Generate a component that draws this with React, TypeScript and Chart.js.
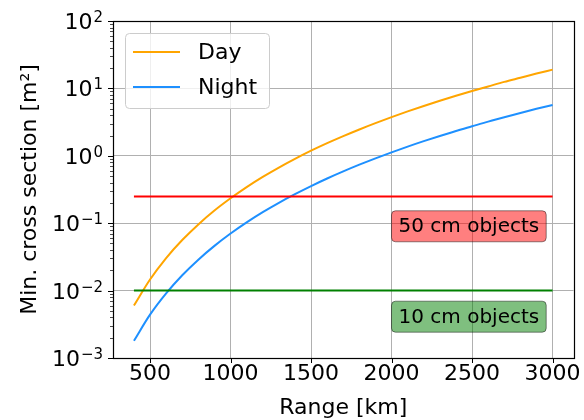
import React, { useEffect, useRef } from 'react';
import { Chart, registerables } from 'chart.js';

Chart.register(...registerables);

// ---- data ----
const rangeKm = [400, 500, 600, 700, 800, 900, 1000, 1100, 1200, 1300, 1400, 1500, 1600, 1700, 1800, 1900, 2000, 2100, 2200, 2300, 2400, 2500, 2600, 2700, 2800, 2900, 3000];
const dayValues = [0.006, 0.0146, 0.0304, 0.0563, 0.096, 0.154, 0.234, 0.343, 0.486, 0.669, 0.9, 1.19, 1.54, 1.96, 2.46, 3.05, 3.75, 4.56, 5.49, 6.56, 7.78, 9.16, 10.7, 12.5, 14.4, 16.6, 19.0];
const nightValues = [0.0018, 0.0044, 0.0091, 0.0169, 0.0288, 0.0461, 0.0703, 0.103, 0.146, 0.201, 0.27, 0.356, 0.461, 0.587, 0.738, 0.916, 1.125, 1.37, 1.65, 1.97, 2.33, 2.75, 3.21, 3.74, 4.32, 4.98, 5.69];
const lineStartKm = 400;
const lineEndKm = 3000;
const threshold50cm = 0.25;
const threshold10cm = 0.01;
const seriesLabels = ['Day', 'Night'];
const xTickValues = [500, 1000, 1500, 2000, 2500, 3000];
const yDecadeExponents = [-3, -2, -1, 0, 1, 2];
const annotationTexts = ['50 cm objects', '10 cm objects'];
const annotationX = [2480, 2480];
const annotationY = [0.09, 0.0041];

const FONT = "'DejaVu Sans', sans-serif";
const DAY_COLOR = '#ffa500';
const NIGHT_COLOR = '#1e90ff';

const expText = (e: number) => (e < 0 ? '\u2212' + String(-e) : String(e));
const isPow10 = (v: number) => Math.abs(Math.log10(v) - Math.round(Math.log10(v))) < 1e-9;

function roundRect(ctx: CanvasRenderingContext2D, x: number, y: number, w: number, h: number, r: number) {
  ctx.beginPath();
  ctx.moveTo(x + r, y);
  ctx.lineTo(x + w - r, y);
  ctx.arcTo(x + w, y, x + w, y + r, r);
  ctx.lineTo(x + w, y + h - r);
  ctx.arcTo(x + w, y + h, x + w - r, y + h, r);
  ctx.lineTo(x + r, y + h);
  ctx.arcTo(x, y + h, x, y + h - r, r);
  ctx.lineTo(x, y + r);
  ctx.arcTo(x, y, x + r, y, r);
  ctx.closePath();
}

const decorPlugin = {
  id: 'decor',
  afterDatasetsDraw(chart: any) {
    const ctx: CanvasRenderingContext2D = chart.ctx;
    const { left, right, top, bottom } = chart.chartArea;
    const xs = chart.scales.x;
    const ys = chart.scales.y;
    ctx.save();
    // ticks
    ctx.strokeStyle = '#000';
    ctx.lineWidth = 1;
    ctx.beginPath();
    xTickValues.forEach((v) => {
      const px = Math.round(xs.getPixelForValue(v)) + 0.5;
      ctx.moveTo(px, bottom);
      ctx.lineTo(px, bottom + 5);
    });
    yDecadeExponents.forEach((e) => {
      const py = Math.round(ys.getPixelForValue(Math.pow(10, e))) + 0.5;
      ctx.moveTo(left - 5, py);
      ctx.lineTo(left, py);
    });
    ctx.stroke();
    ctx.lineWidth = 0.7;
    ctx.beginPath();
    yDecadeExponents.slice(0, -1).forEach((e) => {
      for (let k = 2; k <= 9; k++) {
        const py = Math.round(ys.getPixelForValue(k * Math.pow(10, e))) + 0.5;
        ctx.moveTo(left - 3, py);
        ctx.lineTo(left, py);
      }
    });
    ctx.stroke();
    // frame
    ctx.lineWidth = 1.2;
    ctx.strokeRect(Math.round(left) + 0.5, Math.round(top) + 0.5, Math.round(right - left), Math.round(bottom - top));

    // y tick labels as 10^e with raised exponent
    ctx.fillStyle = '#000';
    ctx.textBaseline = 'alphabetic';
    ctx.textAlign = 'left';
    yDecadeExponents.forEach((e) => {
      const py = ys.getPixelForValue(Math.pow(10, e));
      const sup = expText(e);
      ctx.font = `15px ${FONT}`;
      const ws = ctx.measureText(sup).width;
      ctx.font = `22px ${FONT}`;
      const wm = ctx.measureText('10').width;
      const rightEdge = left - 10;
      const base = py + 8;
      ctx.fillText('10', rightEdge - ws - wm - 1, base);
      ctx.font = `15px ${FONT}`;
      ctx.fillText(sup, rightEdge - ws, base - 7);
    });

    // annotation boxes
    const fills = ['rgba(255,0,0,0.5)', 'rgba(0,128,0,0.5)'];
    ctx.font = `20px ${FONT}`;
    ctx.textAlign = 'center';
    ctx.textBaseline = 'middle';
    annotationTexts.forEach((t, i) => {
      const cx = xs.getPixelForValue(annotationX[i]);
      const cy = ys.getPixelForValue(annotationY[i]);
      const w = ctx.measureText(t).width + 14;
      const h = 31;
      roundRect(ctx, cx - w / 2, cy - h / 2, w, h, 4);
      ctx.fillStyle = fills[i];
      ctx.fill();
      ctx.strokeStyle = 'rgba(0,0,0,0.45)';
      ctx.lineWidth = 1;
      ctx.stroke();
      ctx.fillStyle = '#000';
      ctx.fillText(t, cx, cy + 1);
    });

    // legend
    const lx = left + 12;
    const ly = top + 12;
    roundRect(ctx, lx + 0.5, ly + 0.5, 144, 75, 4);
    ctx.fillStyle = 'rgba(255,255,255,0.8)';
    ctx.fill();
    ctx.strokeStyle = '#cccccc';
    ctx.lineWidth = 1;
    ctx.stroke();
    const colors = [DAY_COLOR, NIGHT_COLOR];
    ctx.font = `22px ${FONT}`;
    ctx.textAlign = 'left';
    seriesLabels.forEach((lab, i) => {
      const yy = ly + 19 + i * 35;
      ctx.strokeStyle = colors[i];
      ctx.lineWidth = 2;
      ctx.beginPath();
      ctx.moveTo(lx + 8, yy);
      ctx.lineTo(lx + 55, yy);
      ctx.stroke();
      ctx.fillStyle = '#000';
      ctx.fillText(lab, lx + 73, yy + 1);
    });
    ctx.restore();
  },
};

export default function App() {
  const ref = useRef<HTMLCanvasElement | null>(null);
  useEffect(() => {
    document.body.style.margin = '0';
    const canvas = ref.current!;
    const toPts = (vals: number[]) => rangeKm.map((x, i) => ({ x, y: vals[i] }));
    const chart = new Chart(canvas, {
      type: 'line',
      data: {
        datasets: [
          { label: seriesLabels[0], data: toPts(dayValues), borderColor: DAY_COLOR, borderWidth: 2, pointRadius: 0, cubicInterpolationMode: 'monotone', order: 4 },
          { label: seriesLabels[1], data: toPts(nightValues), borderColor: NIGHT_COLOR, borderWidth: 2, pointRadius: 0, cubicInterpolationMode: 'monotone', order: 3 },
          { label: '50cm', data: [{ x: lineStartKm, y: threshold50cm }, { x: lineEndKm, y: threshold50cm }], borderColor: '#ff0000', borderWidth: 2, pointRadius: 0, order: 2 },
          { label: '10cm', data: [{ x: lineStartKm, y: threshold10cm }, { x: lineEndKm, y: threshold10cm }], borderColor: '#008000', borderWidth: 2, pointRadius: 0, order: 1 },
        ],
      },
      options: {
        responsive: false,
        animation: false,
        devicePixelRatio: 1,
        layout: { padding: { top: 21, right: 9, left: 0, bottom: 0 } },
        plugins: { legend: { display: false }, tooltip: { enabled: false } },
        scales: {
          x: {
            type: 'linear',
            min: 270,
            max: 3130,
            afterBuildTicks: (s: any) => { s.ticks = xTickValues.map((v) => ({ value: v })); },
            afterFit: (s: any) => { s.height = 62; },
            grid: { color: '#b0b0b0', lineWidth: 1, drawTicks: false },
            border: { display: false },
            ticks: { color: '#000', font: { family: FONT, size: 22 }, padding: 3, maxRotation: 0, autoSkip: false, callback: (v: any) => String(v) },
            title: { display: true, text: 'Range [km]', color: '#000', font: { family: FONT, size: 22, lineHeight: 1 }, padding: { top: 0, bottom: 1 } },
          },
          y: {
            type: 'logarithmic',
            min: 1e-3,
            max: 1e2,
            afterBuildTicks: (s: any) => {
              const t: any[] = [];
              yDecadeExponents.forEach((e, idx) => {
                const base = Math.pow(10, e);
                t.push({ value: base, major: true });
                if (idx < yDecadeExponents.length - 1) for (let k = 2; k <= 9; k++) t.push({ value: k * base });
              });
              s.ticks = t;
            },
            afterFit: (s: any) => { s.width = 113; },
            grid: {
              color: (c: any) => (c.tick && isPow10(c.tick.value) ? '#b0b0b0' : 'rgba(0,0,0,0)'),
              lineWidth: 1,
              drawTicks: false,
            },
            border: { display: false },
            ticks: {
              color: '#000',
              font: { family: FONT, size: 22, lineHeight: 0.6 },
              padding: 12,
              autoSkip: false,
              callback: () => '',
            },
            title: { display: true, text: 'Min. cross section [m\u00B2]', color: '#000', font: { family: FONT, size: 22, lineHeight: 1 }, padding: { top: 19, bottom: 0 } },
          },
        },
      },
      plugins: [decorPlugin],
    } as any);
    return () => chart.destroy();
  }, []);
  return (
    <div style={{ position: 'absolute', left: 0, top: 0, width: 584, height: 420 }}>
      <canvas ref={ref} width={584} height={420} />
    </div>
  );
}
